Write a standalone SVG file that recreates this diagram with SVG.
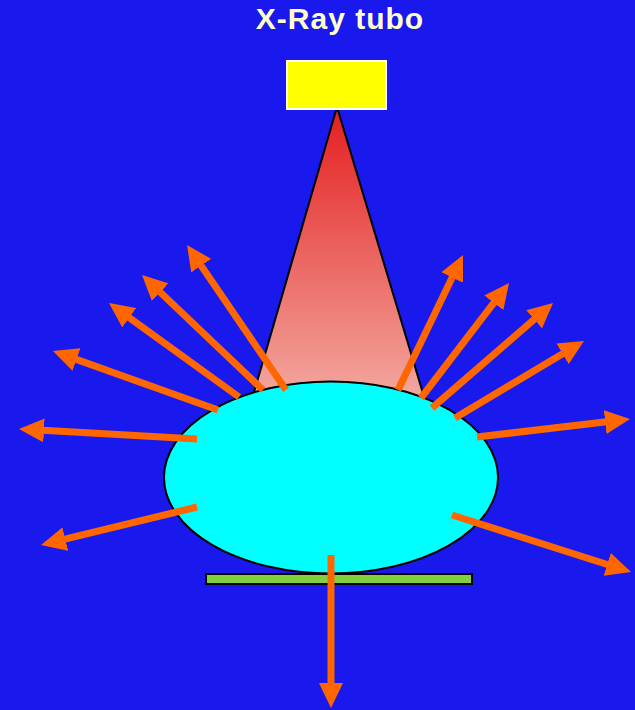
<svg xmlns="http://www.w3.org/2000/svg" width="635" height="710" viewBox="0 0 635 710">
<defs>
<linearGradient id="beam" gradientUnits="userSpaceOnUse" x1="0" y1="107" x2="0" y2="390">
<stop offset="0" stop-color="#E41E1E"/>
<stop offset="1" stop-color="#F2A49C"/>
</linearGradient>
<marker id="ah" markerUnits="userSpaceOnUse" markerWidth="25" markerHeight="24" refX="10" refY="12" orient="auto" viewBox="0 0 25 24">
<path d="M0,0 L25,12 L0,24 z" fill="#FF6600"/>
</marker>
<style>
.ray{stroke:#FF6600;stroke-width:7;fill:none;marker-end:url(#ah)}
.title{font-family:"Liberation Sans",Arial,sans-serif;font-weight:bold;font-size:30px;letter-spacing:1px;fill:#FFFFCC}
</style>
</defs>
<rect x="0" y="0" width="635" height="710" fill="#1919EE"/>
<text class="title" x="340" y="29" text-anchor="middle">X-Ray tubo</text>
<g id="beam-cone">
<polygon points="337,107 245.9,420 431,420" fill="url(#beam)" stroke="#000" stroke-width="2"/>
</g>
<g id="tube">
<rect x="287" y="61" width="99" height="48" fill="#FFFF00" stroke="#FFFFFF" stroke-width="2"/>
</g>
<g id="patient">
<ellipse cx="331" cy="477.5" rx="167" ry="96" fill="#00FFFF" stroke="#000" stroke-width="2"/>
</g>
<g id="detector">
<rect x="206" y="574" width="266" height="10" fill="#80D040" stroke="#000" stroke-width="2"/>
</g>
<g id="connectors">
<line class="ray" x1="331" y1="555" x2="331" y2="693"/>
<line class="ray" x1="452" y1="515" x2="616.7" y2="567.5"/>
<line class="ray" x1="197" y1="507" x2="55.6" y2="541.4"/>
<line class="ray" x1="197" y1="439" x2="34" y2="429.8"/>
<line class="ray" x1="218" y1="410" x2="67.1" y2="356.1"/>
<line class="ray" x1="239" y1="397" x2="121.2" y2="311.8"/>
<line class="ray" x1="263" y1="390" x2="152.9" y2="285.3"/>
<line class="ray" x1="286" y1="390" x2="195.5" y2="257.4"/>
<line class="ray" x1="398" y1="390" x2="456.5" y2="268.5"/>
<line class="ray" x1="421" y1="398" x2="499.9" y2="294.9"/>
<line class="ray" x1="432" y1="408" x2="541.7" y2="312.8"/>
<line class="ray" x1="455" y1="418" x2="571.1" y2="348.7"/>
<line class="ray" x1="477" y1="437" x2="615.1" y2="420.8"/>
</g>
</svg>
